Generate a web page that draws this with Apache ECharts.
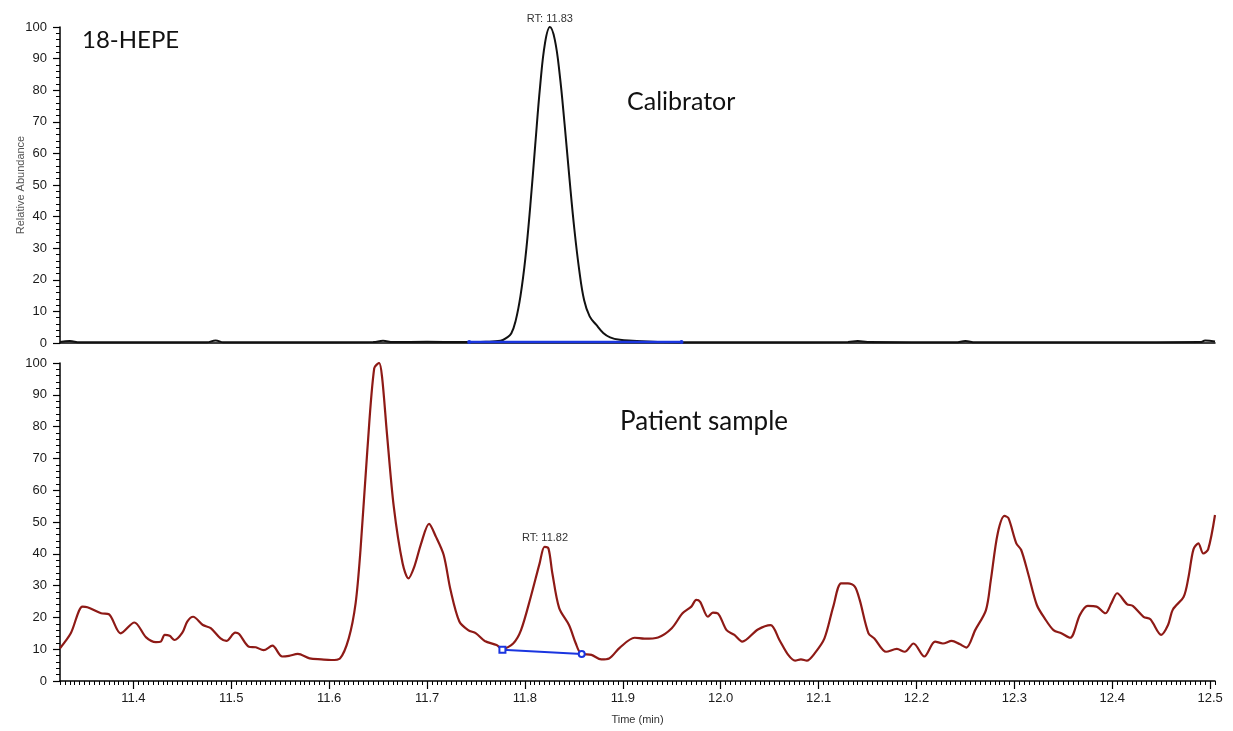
<!DOCTYPE html>
<html>
<head>
<meta charset="utf-8">
<style>
  html, body { margin: 0; padding: 0; background: #fff; }
  #main { width: 1233px; height: 731px; }
</style>
<script src="https://cdn.jsdelivr.net/npm/echarts/dist/echarts.min.js"></script>
</head>
<body>
<div id="main"></div>
<script>
// calibrator trace (top panel)
const calTime = [11.325, 11.335, 11.345, 11.40, 11.475, 11.484, 11.492, 11.56, 11.645, 11.655,
  11.665, 11.70, 11.735, 11.76, 11.775, 11.781, 11.786, 11.7905, 11.7955, 11.8005,
  11.8055, 11.8105, 11.8155, 11.8205, 11.8255, 11.8305, 11.8355, 11.8405, 11.8455, 11.8505,
  11.8555, 11.8605, 11.866, 11.873, 11.880, 11.887, 11.897, 11.91, 11.925, 11.94,
  11.98, 12.04, 12.13, 12.14, 12.15, 12.24, 12.25, 12.26, 12.40, 12.49, 12.495, 12.505];
const calAbund = [0.3, 0.6, 0.2, 0.2, 0.2, 0.8, 0.2, 0.2, 0.3, 0.7,
  0.3, 0.4, 0.3, 0.4, 0.7, 1.6, 3.0, 7.0, 15.0, 27.0,
  43.5, 62.6, 81.2, 94.9, 100, 96.0, 85.0, 69.3, 52.0, 36.0,
  23.0, 13.5, 8.5, 5.7, 3.2, 1.8, 1.0, 0.7, 0.5, 0.3,
  0.2, 0.2, 0.3, 0.6, 0.3, 0.2, 0.6, 0.2, 0.2, 0.3, 0.8, 0.5];

// patient sample trace (bottom panel)
const patTime = [11.325, 11.336, 11.348, 11.353, 11.367, 11.375, 11.387, 11.401, 11.413, 11.423,
  11.428, 11.432, 11.437, 11.442, 11.450, 11.455, 11.461, 11.471, 11.479, 11.489,
  11.495, 11.504, 11.508, 11.518, 11.525, 11.533, 11.542, 11.552, 11.559, 11.568,
  11.580, 11.592, 11.602, 11.611, 11.620, 11.627, 11.632, 11.639, 11.646, 11.651,
  11.654, 11.659, 11.666, 11.675, 11.681, 11.687, 11.694, 11.702, 11.709, 11.717,
  11.724, 11.733, 11.742, 11.750, 11.759, 11.771, 11.777, 11.788, 11.796, 11.806,
  11.815, 11.820, 11.824, 11.828, 11.835, 11.845, 11.852, 11.857, 11.868, 11.878,
  11.886, 11.897, 11.912, 11.922, 11.936, 11.950, 11.961, 11.970, 11.975, 11.979,
  11.987, 11.992, 11.997, 12.006, 12.014, 12.022, 12.038, 12.051, 12.060, 12.069,
  12.076, 12.082, 12.088, 12.096, 12.106, 12.115, 12.123, 12.130, 12.137, 12.142,
  12.151, 12.157, 12.169, 12.180, 12.188, 12.197, 12.208, 12.219, 12.227, 12.236,
  12.244, 12.251, 12.260, 12.271, 12.276, 12.283, 12.290, 12.294, 12.302, 12.307,
  12.314, 12.323, 12.331, 12.340, 12.348, 12.357, 12.367, 12.375, 12.384, 12.393,
  12.399, 12.405, 12.415, 12.421, 12.432, 12.439, 12.450, 12.457, 12.462, 12.473,
  12.478, 12.483, 12.488, 12.493, 12.498, 12.505];
const patAbund = [10.3, 15.0, 23.4, 23.2, 21.3, 21.0, 15.0, 18.4, 13.7, 12.2,
  12.4, 14.5, 14.2, 12.9, 15.2, 18.7, 20.2, 17.6, 16.6, 13.4,
  12.6, 15.2, 14.8, 10.8, 10.6, 9.7, 11.1, 7.7, 7.9, 8.5,
  7.1, 6.8, 6.6, 7.1, 13.4, 24.4, 41.2, 72.6, 98.3, 100,
  95.7, 77.9, 54.8, 37.0, 32.3, 36.0, 43.3, 49.4, 45.4, 39.6,
  28.6, 18.7, 16.0, 15.0, 12.6, 11.3, 10.1, 11.8, 16.0, 26.5,
  37.0, 42.2, 41.7, 33.9, 22.9, 17.6, 11.8, 8.7, 8.2, 6.8,
  7.1, 10.5, 13.6, 13.3, 13.7, 16.6, 21.3, 23.4, 25.5, 24.9,
  20.2, 21.5, 21.3, 16.0, 14.5, 12.4, 16.2, 17.6, 12.9, 8.2,
  6.4, 6.8, 6.4, 8.7, 13.4, 23.4, 30.7, 30.7, 29.7, 25.5,
  15.0, 13.4, 9.2, 10.1, 9.2, 11.8, 7.7, 12.4, 11.8, 12.6,
  11.6, 10.5, 16.0, 22.3, 31.8, 46.4, 51.9, 51.2, 43.3, 41.2,
  33.9, 23.9, 19.7, 16.0, 15.0, 13.6, 20.8, 23.6, 23.4, 21.3,
  24.4, 27.6, 24.2, 23.6, 20.2, 19.4, 14.5, 17.6, 22.5, 26.5,
  32.8, 41.4, 43.3, 40.1, 41.4, 52.2];

// integration baselines
const calBaseTime = [11.743, 11.960];
const calBaseAbund = [0.3, 0.3];
const patBaseTime = [11.777, 11.858];
const patBaseAbund = [9.8, 8.5];

// peak labels
const calPeak = [11.8255, 100, 'RT: 11.83'];
const patPeak = [11.8205, 42.2, 'RT: 11.82'];

const xTicks = [11.4, 11.5, 11.6, 11.7, 11.8, 11.9, 12.0, 12.1, 12.2, 12.3, 12.4, 12.5];
const X_MIN = 11.325, X_MAX = 12.505;

const zip = (xs, ys) => xs.map((x, i) => [x, ys[i]]);

const AXIS_FONT = 'Liberation Sans';
const NOTE_FONT = 'Lato';
const DARK_RED = '#8e1a16';
const BLUE = '#1a35e0';

const yAxisBase = (gridIndex, name) => ({
  type: 'value',
  gridIndex,
  min: 0,
  max: 100,
  interval: 10,
  name,
  nameLocation: 'middle',
  nameGap: 34,
  nameMoveOverlap: false,
  nameTextStyle: { fontFamily: AXIS_FONT, fontSize: 11, color: '#555' },
  axisLine: { show: true, lineStyle: { color: '#000', width: 1.5 } },
  axisTick: { show: true, length: 7, lineStyle: { color: '#000', width: 1.2 } },
  minorTick: { show: true, splitNumber: 5, length: 4, lineStyle: { color: '#000', width: 1 } },
  axisLabel: { fontFamily: AXIS_FONT, fontSize: 13, color: '#1a1a1a', margin: 13 },
  splitLine: { show: false }
});

const option = {
  animation: false,
  backgroundColor: '#fff',
  grid: [
    { left: 60, right: 18, top: 27, height: 316, containLabel: false, outerBoundsMode: 'none' },
    { left: 60, right: 18, top: 363, height: 318, containLabel: false, outerBoundsMode: 'none' }
  ],
  xAxis: [
    {
      type: 'value', gridIndex: 0, min: X_MIN, max: X_MAX,
      axisLine: { show: true, onZero: false, lineStyle: { color: '#000', width: 1.5 } },
      axisTick: { show: false }, axisLabel: { show: false }, splitLine: { show: false }
    },
    {
      type: 'value', gridIndex: 1, min: X_MIN, max: X_MAX, position: 'bottom',
      name: 'Time (min)', nameLocation: 'middle', nameGap: 33, nameMoveOverlap: false,
      nameTextStyle: { fontFamily: AXIS_FONT, fontSize: 11, color: '#333' },
      axisLine: { show: true, onZero: false, lineStyle: { color: '#000', width: 1.5 } },
      axisTick: { show: true, length: 8, customValues: xTicks, lineStyle: { color: '#000', width: 1.2 } },
      axisLabel: {
        fontFamily: AXIS_FONT, fontSize: 13, color: '#1a1a1a', margin: 11,
        customValues: xTicks, formatter: v => Number(v).toFixed(1)
      },
      splitLine: { show: false }
    },
    {
      // minor ticks along the time axis
      type: 'value', gridIndex: 1, min: X_MIN, max: X_MAX, interval: 0.005, position: 'bottom',
      axisLine: { show: false, onZero: false },
      axisTick: { show: true, length: 4, lineStyle: { color: '#000', width: 1 } },
      axisLabel: { show: false }, splitLine: { show: false }
    }
  ],
  yAxis: [
    yAxisBase(0, 'Relative Abundance'),
    yAxisBase(1, '')
  ],
  graphic: [
    { type: 'text', left: 82, top: 28, style: { text: '18-HEPE', font: '24px ' + NOTE_FONT, fill: '#111' } },
    { type: 'text', left: 627, top: 89, style: { text: 'Calibrator', font: '25px ' + NOTE_FONT, fill: '#111' } },
    { type: 'text', left: 620, top: 409, style: { text: 'Patient sample', font: '26px ' + NOTE_FONT, fill: '#111' } }
  ],
  series: [
    {
      type: 'line', xAxisIndex: 0, yAxisIndex: 0,
      data: zip(calTime, calAbund),
      smooth: 0.4, showSymbol: false,
      lineStyle: { color: '#111', width: 2 },
      markPoint: {
        symbol: 'circle', symbolSize: 0,
        data: [{ coord: [calPeak[0], calPeak[1]], value: calPeak[2] }],
        label: { show: true, position: 'top', distance: 3, formatter: '{c}',
          fontFamily: AXIS_FONT, fontSize: 11, color: '#333' }
      }
    },
    {
      type: 'line', xAxisIndex: 0, yAxisIndex: 0,
      data: zip(calBaseTime, calBaseAbund),
      symbol: 'circle', symbolSize: 4, showSymbol: true,
      itemStyle: { color: BLUE },
      lineStyle: { color: BLUE, width: 2.5 }, z: 5
    },
    {
      type: 'line', xAxisIndex: 1, yAxisIndex: 1,
      data: zip(patTime, patAbund),
      smooth: 0.3, showSymbol: false,
      lineStyle: { color: DARK_RED, width: 2.2 },
      markPoint: {
        symbol: 'circle', symbolSize: 0,
        data: [{ coord: [patPeak[0], patPeak[1]], value: patPeak[2] }],
        label: { show: true, position: 'top', distance: 3, formatter: '{c}',
          fontFamily: AXIS_FONT, fontSize: 11, color: '#333' }
      }
    },
    {
      type: 'line', xAxisIndex: 1, yAxisIndex: 1,
      data: [
        { value: [patBaseTime[0], patBaseAbund[0]], symbol: 'rect' },
        { value: [patBaseTime[1], patBaseAbund[1]], symbol: 'circle' }
      ],
      symbolSize: 6, showSymbol: true,
      itemStyle: { color: '#fff', borderColor: BLUE, borderWidth: 2 },
      lineStyle: { color: BLUE, width: 2 }, z: 5
    }
  ]
};

const chart = echarts.init(document.getElementById('main'));
chart.setOption(option);
</script>
</body>
</html>
